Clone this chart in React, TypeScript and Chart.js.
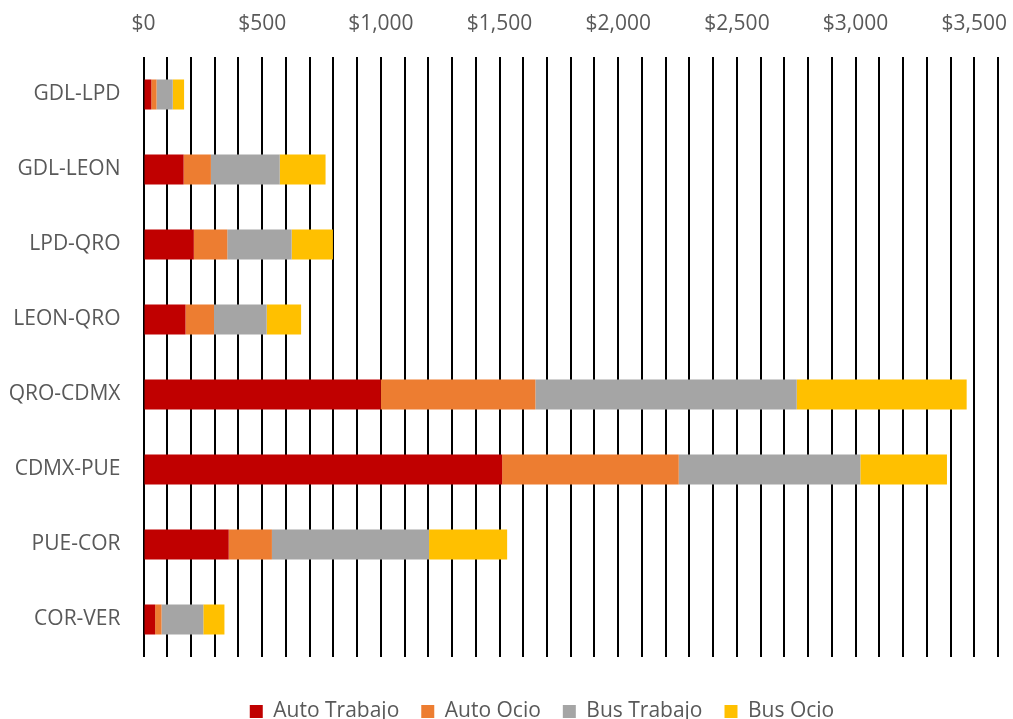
import React, { useEffect, useRef } from "react";
import { Chart, registerables } from "chart.js";

Chart.register(...registerables);

const categories = ["GDL-LPD", "GDL-LEON", "LPD-QRO", "LEON-QRO", "QRO-CDMX", "CDMX-PUE", "PUE-COR", "COR-VER"];
const autoTrabajo = [33, 169, 212, 177, 1000, 1511, 359, 49];
const autoOcio = [22, 115, 141, 120, 651, 744, 182, 27];
const busTrabajo = [68, 290, 271, 222, 1101, 765, 662, 176];
const busOcio = [48, 193, 174, 145, 716, 365, 329, 89];
const seriesNames = ["Auto Trabajo", "Auto Ocio", "Bus Trabajo", "Bus Ocio"];
const seriesColors = ["#C00000", "#ED7D31", "#A5A5A5", "#FFC000"];
const axisMin = 0;
const axisMax = 3600;
const gridStep = 100;
const labelStep = 500;
const lastLabel = 3500;

const FONT = "'Open Sans', sans-serif";
const TEXT = "#595959";

const legendShift = {
  id: "legendShift",
  afterLayout(chart: any) {
    if (chart.legend) {
      chart.legend.left += 43;
      chart.legend.right += 43;
    }
  },
};

export default function App() {
  const ref = useRef<HTMLCanvasElement | null>(null);

  useEffect(() => {
    if (!ref.current) return;
    const values = [autoTrabajo, autoOcio, busTrabajo, busOcio];
    const chart = new Chart(ref.current, {
      type: "bar",
      data: {
        labels: categories,
        datasets: values.map((v, i) => ({
          label: seriesNames[i],
          data: v,
          backgroundColor: seriesColors[i],
          borderWidth: 0,
          barPercentage: 0.4,
          categoryPercentage: 1.0,
        })),
      },
      options: {
        indexAxis: "y",
        responsive: false,
        animation: false,
        devicePixelRatio: 1,
        layout: { padding: { left: 0, right: 15, top: 0, bottom: 0 } },
        scales: {
          x: {
            position: "top",
            stacked: true,
            min: axisMin,
            max: axisMax,
            afterFit: (s: any) => {
              s.height = 57;
              s.paddingLeft = 0;
              s.paddingRight = 0;
            },
            border: { display: false },
            grid: { color: "#000000", lineWidth: 2, drawTicks: false },
            ticks: {
              stepSize: gridStep,
              autoSkip: false,
              maxRotation: 0,
              padding: 20,
              color: TEXT,
              font: { family: FONT, size: 21 },
              callback: (val: any) => {
                const n = Number(val);
                if (n % labelStep !== 0 || n > lastLabel) return "";
                return "$" + n.toLocaleString("en-US");
              },
            },
          },
          y: {
            stacked: true,
            afterFit: (s: any) => {
              s.width = 143.5;
            },
            border: { display: false },
            grid: { display: false, drawTicks: false },
            ticks: {
              padding: 23,
              color: TEXT,
              font: { family: FONT, size: 21 },
            },
          },
        },
        plugins: {
          tooltip: { enabled: false },
          legend: {
            position: "bottom",
            title: { display: true, text: "", padding: { top: 12, bottom: 0 }, font: { size: 10, lineHeight: 1 } },
            labels: {
              boxWidth: 13,
              boxHeight: 13,
              padding: 22,
              color: TEXT,
              font: { family: FONT, size: 21 },
            },
          },
        },
      },
      plugins: [legendShift],
    });
    return () => chart.destroy();
  }, []);

  return (
    <div style={{ position: "fixed", left: 0, top: 0, width: 1013, height: 719, overflow: "hidden", background: "#fff" }}>
      <canvas ref={ref} width={1013} height={732} />
    </div>
  );
}
